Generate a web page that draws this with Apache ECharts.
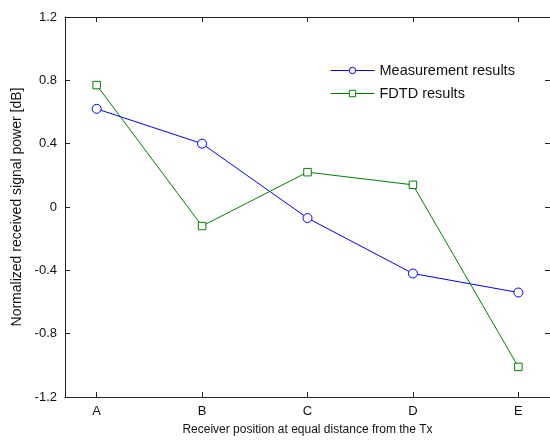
<!DOCTYPE html>
<html>
<head>
<meta charset="utf-8">
<script src="https://cdn.jsdelivr.net/npm/echarts@6/dist/echarts.min.js"></script>
<style>
  html, body { margin: 0; padding: 0; background: #fff; overflow: hidden; }
  #chart { width: 550px; height: 441px; }
</style>
</head>
<body>
<div id="chart"></div>
<script>
// Receiver positions and normalized received power [dB]
const positions = ['A', 'B', 'C', 'D', 'E'];
const measurement = [0.62, 0.40, -0.07, -0.42, -0.54];
const fdtd = [0.77, -0.12, 0.22, 0.14, -1.01];
const yTicks = [-1.2, -0.8, -0.4, 0, 0.4, 0.8, 1.2];

const font = 'Liberation Sans, Arial, sans-serif';
const axisColor = '#222';

const toPoints = vals => vals.map((v, i) => [i, v]);
const posIdx = positions.map((_, i) => i);

const chart = echarts.init(document.getElementById('chart'), null, { renderer: 'canvas' });

const tickStyle = { show: true, inside: true, length: 5, lineStyle: { color: axisColor, width: 1 } };
const lineStyleAxis = { show: true, onZero: false, lineStyle: { color: axisColor, width: 1 } };

chart.setOption({
  animation: false,
  backgroundColor: '#fff',
  textStyle: { fontFamily: font },
  grid: { left: 65, top: 17, width: 488, height: 385, containLabel: false },
  legend: {
    orient: 'vertical',
    left: 330,
    top: 63,
    padding: 0,
    itemWidth: 44,
    itemHeight: 8,
    itemGap: 8,
    itemStyle: { borderWidth: 1, color: '#fff' },
    lineStyle: { width: 1 },
    textStyle: { fontFamily: font, fontSize: 14.5, color: '#111' },
    data: ['Measurement results', 'FDTD results']
  },
  xAxis: [
    {
      type: 'value',
      min: -0.3,
      max: 4.3,
      position: 'bottom',
      axisLine: lineStyleAxis,
      axisTick: Object.assign({ customValues: posIdx }, tickStyle),
      axisLabel: {
        customValues: posIdx,
        formatter: v => positions[Math.round(v)],
        fontSize: 13, color: '#111', fontFamily: font, margin: 8
      },
      splitLine: { show: false },
      name: 'Receiver position at equal distance from the Tx',
      nameLocation: 'middle',
      nameGap: 27,
      nameTextStyle: { fontSize: 12, color: '#111', fontFamily: font }
    },
    {
      type: 'value',
      min: -0.3,
      max: 4.3,
      position: 'top',
      axisLine: lineStyleAxis,
      axisTick: Object.assign({ customValues: posIdx }, tickStyle),
      axisLabel: { show: false },
      splitLine: { show: false }
    }
  ],
  yAxis: [
    {
      type: 'value',
      min: -1.2,
      max: 1.2,
      interval: 0.4,
      position: 'left',
      axisLine: lineStyleAxis,
      axisTick: Object.assign({ customValues: yTicks }, tickStyle),
      axisLabel: {
        customValues: yTicks,
        formatter: v => (Math.abs(v) < 1e-9 ? '0' : v.toFixed(1)),
        fontSize: 13, color: '#111', fontFamily: font, margin: 8
      },
      splitLine: { show: false },
      name: 'Normalized received signal power [dB]',
      nameLocation: 'middle',
      nameGap: 41,
      nameRotate: 90,
      nameTextStyle: { fontSize: 14, color: '#111', fontFamily: font }
    },
    {
      type: 'value',
      min: -1.2,
      max: 1.2,
      interval: 0.4,
      position: 'right',
      axisLine: { show: false, onZero: false },
      axisTick: Object.assign({ customValues: yTicks }, tickStyle),
      axisLabel: { show: false },
      splitLine: { show: false }
    }
  ],
  series: [
    {
      name: 'Measurement results',
      type: 'line',
      data: toPoints(measurement),
      symbol: 'circle',
      symbolSize: 9,
      lineStyle: { color: '#0000ff', width: 1 },
      itemStyle: { color: '#fff', borderColor: '#0000ff', borderWidth: 1 },
      emphasis: { disabled: true }
    },
    {
      name: 'FDTD results',
      type: 'line',
      data: toPoints(fdtd),
      symbol: 'rect',
      symbolSize: 7.5,
      lineStyle: { color: '#008000', width: 1 },
      itemStyle: { color: '#fff', borderColor: '#008000', borderWidth: 1 },
      emphasis: { disabled: true }
    }
  ]
});
</script>
</body>
</html>
